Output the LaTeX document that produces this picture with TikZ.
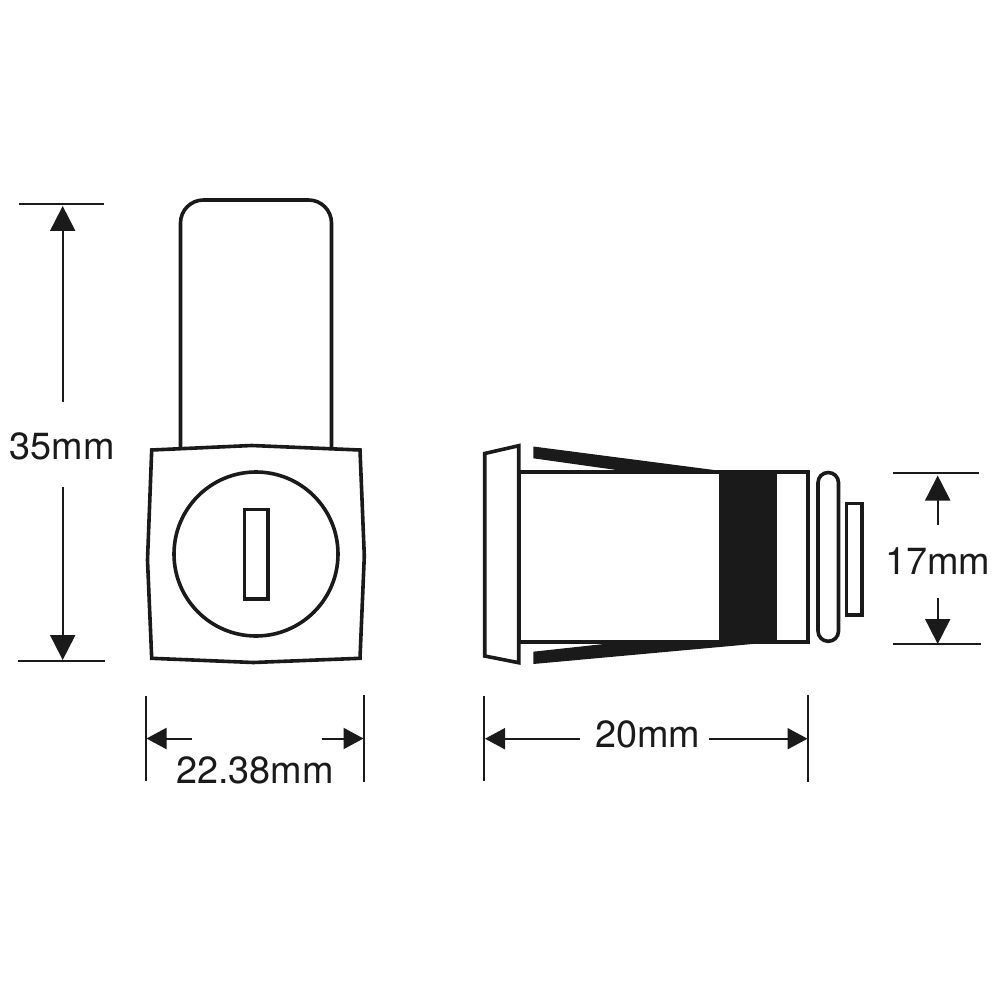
\documentclass[tikz,border=0pt]{standalone}
\usepackage{fontspec}
\setmainfont{TeX Gyre Heros}
\usetikzlibrary{arrows.meta}
\definecolor{ink}{HTML}{1A1A1A}
\tikzset{
  part/.style={draw=ink,line width=3.6pt,line join=miter},
  solid part/.style={fill=ink,draw=none},
  extline/.style={draw=ink,line width=2pt},
  dimv/.style={draw=ink,line width=2pt,-{Triangle[length=25pt,width=25pt,fill=ink]}},
  dimh/.style={draw=ink,line width=2pt,-{Triangle[length=20pt,width=21pt,fill=ink]}},
  dimlabel/.style={inner sep=0pt,anchor=base,text=ink,font=\fontsize{37.8}{37.8}\selectfont}
}
\begin{document}
\begin{tikzpicture}[x=1pt,y=-1pt]
\useasboundingbox (0,0) rectangle (1000,1000);
\fill[white] (0,0) rectangle (1000,1000);

% front view: handle, square face, circle, key slot
\draw[part,rounded corners=23pt] (180.5,447) -- (180.5,200) -- (331.5,200) -- (331.5,447);
\draw[part] (151.7,450) -- (251.7,445.5) -- (360,450) -- (364.3,556) -- (360,658.3)
  -- (253.3,662.5) -- (151.7,658.3) -- (147.5,560) -- cycle;
\draw[part] (256,554) circle (82);
\draw[part] (244.3,509.3) rectangle (268,598.7);

% side view: body, flange, wedges, band, ring, stub
\draw[part] (518.7,472) rectangle (808,642);
\draw[part] (484.7,453.5) -- (518.7,445.7) -- (518.7,662.7) -- (484.7,656) -- cycle;
\fill[solid part] (719,470) rectangle (776.7,643.5);
\fill[solid part] (533.3,446.5) -- (718,470.5) -- (620,470.5) -- (533.3,458.3) -- cycle;
\fill[solid part] (533.3,651.7) -- (613,643) -- (757,642) -- (757,643.6) -- (533.3,664) -- cycle;
\draw[part,rounded corners=10.2pt] (818,472.5) rectangle (838.5,641.3);
\draw[part] (846.3,503.3) rectangle (861.7,615);

% labels
\node[dimlabel] (l35) at (62,459) {35mm};
\node[dimlabel] (l22) at (255,783) {22.38mm};
\node[dimlabel] (l20) at (647.7,747.5) {20mm};
\node[dimlabel] (l17) at (937.5,574) {17mm};

% 35mm dimension
\coordinate (a1) at (19,203.7); \coordinate (a2) at (104,203.7);
\coordinate (b1) at (18,661.3); \coordinate (b2) at (105,661.3);
\coordinate (a3) at (62.7,401.7); \coordinate (a4) at (62.7,206);
\coordinate (b3) at (62.7,487); \coordinate (b4) at (62.7,660);
\draw[extline] (a1) -- (a2);
\draw[extline] (b1) -- (b2);
\draw[dimv] (a3) -- (a4);
\draw[dimv] (b3) -- (b4);

% 22.38mm dimension
\coordinate (c1) at (146,696); \coordinate (c2) at (146,781);
\coordinate (d1) at (364,695); \coordinate (d2) at (364,782);
\coordinate (c3) at (191.7,738.5); \coordinate (c4) at (146.5,738.5);
\coordinate (d3) at (321.7,738.5); \coordinate (d4) at (363.5,738.5);
\draw[extline] (c1) -- (c2);
\draw[extline] (d1) -- (d2);
\draw[dimh] (c3) -- (c4);
\draw[dimh] (d3) -- (d4);

% 20mm dimension
\coordinate (e1) at (484.3,696); \coordinate (e2) at (484.3,781);
\coordinate (f1) at (808,695); \coordinate (f2) at (808,782);
\coordinate (e3) at (580,738.7); \coordinate (e4) at (485,738.7);
\coordinate (f3) at (709.3,738.7); \coordinate (f4) at (807.5,738.7);
\draw[extline] (e1) -- (e2);
\draw[extline] (f1) -- (f2);
\draw[dimh] (e3) -- (e4);
\draw[dimh] (f3) -- (f4);

% 17mm dimension
\coordinate (g1) at (893.3,472.7); \coordinate (g2) at (979.3,472.7);
\coordinate (h1) at (893.3,644.3); \coordinate (h2) at (981,644.3);
\coordinate (g3) at (937.7,525); \coordinate (g4) at (937.7,475.5);
\coordinate (h3) at (937.7,598.3); \coordinate (h4) at (937.7,644);
\draw[extline] (g1) -- (g2);
\draw[extline] (h1) -- (h2);
\draw[dimv] (g3) -- (g4);
\draw[dimv] (h3) -- (h4);
\end{tikzpicture}
\end{document}
